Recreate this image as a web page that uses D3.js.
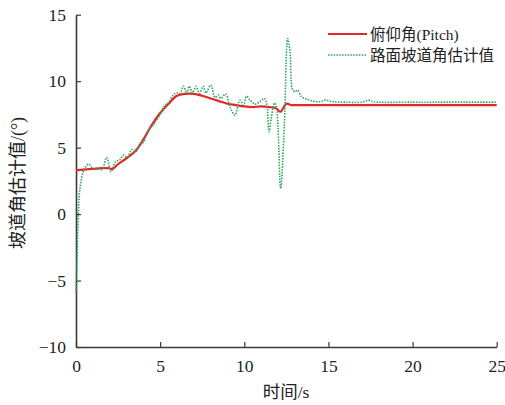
<!DOCTYPE html>
<html>
<head>
<meta charset="utf-8">
<script src="https://cdn.jsdelivr.net/npm/d3@7"></script>
<style>
  html, body { margin: 0; padding: 0; background: #fff; }
  svg { display: block; }
  text { font-family: "Liberation Serif", "Noto Sans CJK SC", serif; fill: #222; }
</style>
</head>
<body>
<svg id="chart" width="505" height="405"></svg>
<script>
// Data
const pitchT = [0, 0.5, 1, 1.5, 2, 2.15, 2.5, 3, 3.5, 4, 4.5, 5, 5.5, 6, 6.5, 7, 7.5, 8, 8.5, 9, 9.5, 10, 10.5, 11, 11.5, 11.9, 12.15, 12.5, 12.8, 13, 15, 20, 25];
const pitchV = [3.3, 3.35, 3.4, 3.45, 3.45, 3.38, 3.75, 4.2, 4.7, 5.6, 6.7, 7.6, 8.3, 8.9, 9.05, 9.05, 8.9, 8.7, 8.5, 8.3, 8.2, 8.1, 8.05, 8.1, 8.05, 7.95, 7.7, 8.3, 8.2, 8.2, 8.2, 8.2, 8.2];

const estT = [0, 0.05, 0.1, 0.15, 0.2, 0.3, 0.4, 0.5, 0.75, 1.05, 1.3, 1.55, 1.82, 2.08, 2.34, 2.63, 2.83, 3.03, 3.33, 3.53, 3.82, 4.0, 4.2, 4.4, 4.6, 4.79, 5.0, 5.29, 5.5, 5.78, 5.98, 6.18, 6.38, 6.58, 6.73, 6.93, 7.13, 7.33, 7.56, 7.72, 8.0, 8.26, 8.46, 8.6, 8.91, 9.15, 9.45, 9.74, 9.95, 10.14, 10.34, 10.64, 10.93, 11.19, 11.33, 11.47, 11.6, 11.8, 11.92, 12.16, 12.38, 12.58, 12.72, 12.85, 13.0, 13.17, 13.41, 13.7, 14.1, 14.5, 14.8, 15.3, 16, 17, 17.4, 17.7, 20, 22, 25];
const estV = [-5.9, -4, -1.5, 0.3, 1.5, 2.5, 3.1, 3.4, 3.76, 3.36, 3.4, 3.36, 4.26, 3.18, 3.93, 4.11, 4.44, 4.26, 4.86, 4.68, 5.31, 5.4, 5.95, 6.44, 6.7, 7.07, 7.5, 8.2, 8.4, 8.95, 9.12, 9.07, 9.62, 9.07, 9.62, 9.12, 9.62, 9.07, 9.62, 9.12, 9.7, 8.77, 8.95, 8.7, 9.02, 8.07, 7.44, 8.57, 8.2, 8.87, 8.57, 8.27, 8.45, 8.7, 8.32, 6.19, 7.2, 8.37, 7.95, 1.93, 6.69, 13.2, 12.2, 9.45, 9.2, 9.32, 8.82, 8.65, 8.5, 8.45, 8.57, 8.45, 8.42, 8.42, 8.57, 8.45, 8.42, 8.42, 8.42];

const xTicks = [0, 5, 10, 15, 20, 25];
const yTicks = [-10, -5, 0, 5, 10, 15];
const seriesNames = ["俯仰角(Pitch)", "路面坡道角估计值"];
const xLabel = "时间/s";
const yLabel = "坡道角估计值/(°)";

const svg = d3.select("#chart");
const x = d3.scaleLinear().domain([0, 25]).range([76, 496.7]);
const y = d3.scaleLinear().domain([-10, 15]).range([347, 14.7]);

const axisColor = "#3a3a3a";

// Axes
const gx = svg.append("g").attr("transform", `translate(0,${y(-10)})`)
  .call(d3.axisBottom(x).tickValues(xTicks).tickSizeInner(-5).tickSizeOuter(0).tickPadding(13)
    .tickFormat(d => String(d)));
const gy = svg.append("g").attr("transform", `translate(${x(0)},0)`)
  .call(d3.axisLeft(y).tickValues(yTicks).tickSizeInner(-5).tickSizeOuter(0).tickPadding(10)
    .tickFormat(d => d < 0 ? "\u2212" + Math.abs(d) : String(d)));
[gx, gy].forEach(g => {
  g.select(".domain").attr("stroke", axisColor).attr("stroke-width", 1.6);
  g.selectAll(".tick line").attr("stroke", axisColor).attr("stroke-width", 1.2);
  g.selectAll(".tick text").attr("font-family", "Liberation Serif").attr("font-size", 17.5).attr("fill", "#222");
});

// Lines
const lineGen = d3.line().x(d => x(d[0])).y(d => y(d[1])).curve(d3.curveCatmullRom.alpha(0.5));
const estData = estT.map((t, i) => [t, estV[i]]);
const pitchData = pitchT.map((t, i) => [t, pitchV[i]]);

svg.append("path").datum(pitchData).attr("d", lineGen)
  .attr("fill", "none").attr("stroke", "#e8262a").attr("stroke-width", 2.2);
svg.append("path").datum(estData).attr("d", lineGen)
  .attr("fill", "none").attr("stroke", "#2aa858").attr("stroke-width", 1.6)
  .attr("stroke-dasharray", "1.5,1.3");

// Legend
const lg = svg.append("g");
lg.append("line").attr("x1", 328).attr("x2", 367).attr("y1", 34).attr("y2", 34)
  .attr("stroke", "#e8262a").attr("stroke-width", 2.2);
lg.append("line").attr("x1", 328).attr("x2", 367).attr("y1", 55).attr("y2", 55)
  .attr("stroke", "#2aa858").attr("stroke-width", 1.6).attr("stroke-dasharray", "1.5,1.3");
lg.append("text").attr("x", 370).attr("y", 39.5).attr("font-size", 15.5).text(seriesNames[0]);
lg.append("text").attr("x", 370).attr("y", 60.5).attr("font-size", 15.5).text(seriesNames[1]);

// Axis titles
svg.append("text").attr("x", 286).attr("y", 398).attr("text-anchor", "middle")
  .attr("font-size", 17.5).text(xLabel);
svg.append("text").attr("transform", "translate(24,183) rotate(-90)").attr("text-anchor", "middle")
  .attr("font-size", 18).text(yLabel);
</script>
</body>
</html>
